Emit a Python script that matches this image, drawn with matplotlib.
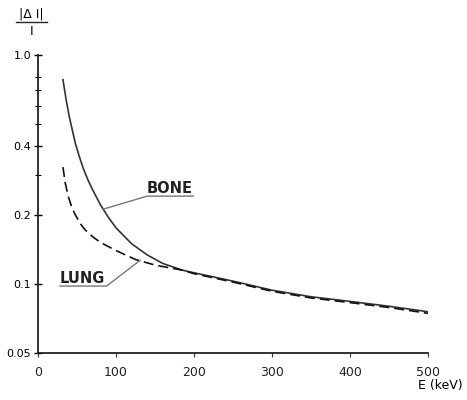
import matplotlib
matplotlib.use("Agg")
from matplotlib import pyplot as plt
from matplotlib.lines import Line2D
from matplotlib.ticker import FixedLocator, NullFormatter

# values
bone_e = [32, 36, 40, 44, 48, 53, 58, 64, 70, 80, 90, 100, 120, 140, 160, 185, 200,
          250, 300, 350, 400, 450, 500]
bone_v = [0.78, 0.64, 0.54, 0.47, 0.41, 0.36, 0.32, 0.285, 0.258, 0.222, 0.196, 0.176,
          0.150, 0.134, 0.123, 0.115, 0.112, 0.103, 0.094, 0.088, 0.084, 0.080, 0.0757]

lung_e = [32, 35, 39, 43, 47, 54, 60, 70, 80, 100, 125, 150, 185, 200, 250, 300, 350,
          400, 450, 500]
lung_v = [0.324, 0.275, 0.240, 0.218, 0.203, 0.184, 0.173, 0.161, 0.152, 0.140, 0.128,
          0.121, 0.115, 0.111, 0.102, 0.093, 0.087, 0.083, 0.079, 0.0745]

x_ticks = [0, 100, 200, 300, 400, 500]
y_major = [0.05, 0.1, 0.2, 0.4, 1.0]
y_major_labels = ["0.05", "0.1", "0.2", "0.4", "1.0"]
y_minor = [0.3, 0.5, 0.6, 0.7, 0.8]

fig = plt.figure(figsize=(4.67, 4.0), dpi=100)
ax = fig.add_axes([0.0814, 0.1175, 0.835, 0.745])

ax.plot(bone_e, bone_v, color="#333333", lw=1.2)
ax.plot(lung_e, lung_v, color="#111111", lw=1.2, dashes=(6, 3))

ax.set_yscale("log")
ax.set_xlim(0, 500)
ax.set_ylim(0.05, 1.0)

ax.yaxis.set_major_locator(FixedLocator(y_major))
ax.set_yticklabels(y_major_labels)
ax.yaxis.set_minor_locator(FixedLocator(y_minor))
ax.yaxis.set_minor_formatter(NullFormatter())
ax.set_xticks(x_ticks)
ax.set_xticklabels([str(t) for t in x_ticks])

ax.tick_params(axis="y", which="major", direction="inout", length=6, width=1, labelsize=8, pad=2)
ax.tick_params(axis="y", which="minor", direction="inout", length=4, width=0.8)
ax.tick_params(axis="x", direction="out", length=3, width=0.8, labelsize=9, pad=6, colors="#333333")
ax.tick_params(axis="x", labelcolor="#222222")

for s in ["top", "right"]:
    ax.spines[s].set_visible(False)
ax.spines["left"].set_linewidth(1.3)
ax.spines["bottom"].set_linewidth(1.3)
ax.spines["left"].set_color("#222222")
ax.spines["bottom"].set_color("#222222")

# curve labels with underline + leader
lead = "#777777"
ax.text(169, 0.262, "BONE", ha="center", va="center", fontsize=10.5, fontweight="bold",
        color="#222222")
ax.plot([199, 140, 83], [0.242, 0.242, 0.212], color=lead, lw=1.0)

ax.text(57, 0.106, "LUNG", ha="center", va="center", fontsize=10.5, fontweight="bold",
        color="#222222")
ax.plot([28, 88, 131], [0.098, 0.098, 0.127], color=lead, lw=1.0)

# axis labels
fig.text(0.068, 0.965, "|Δ I|", ha="center", va="center", fontsize=9)
fig.add_artist(Line2D([0.035, 0.1], [0.945, 0.945], color="#222222", lw=1.0))
fig.text(0.068, 0.922, "I", ha="center", va="center", fontsize=9)
fig.text(0.942, 0.035, "E (keV)", ha="center", va="center", fontsize=9)

plt.savefig("out.png", dpi=100)
